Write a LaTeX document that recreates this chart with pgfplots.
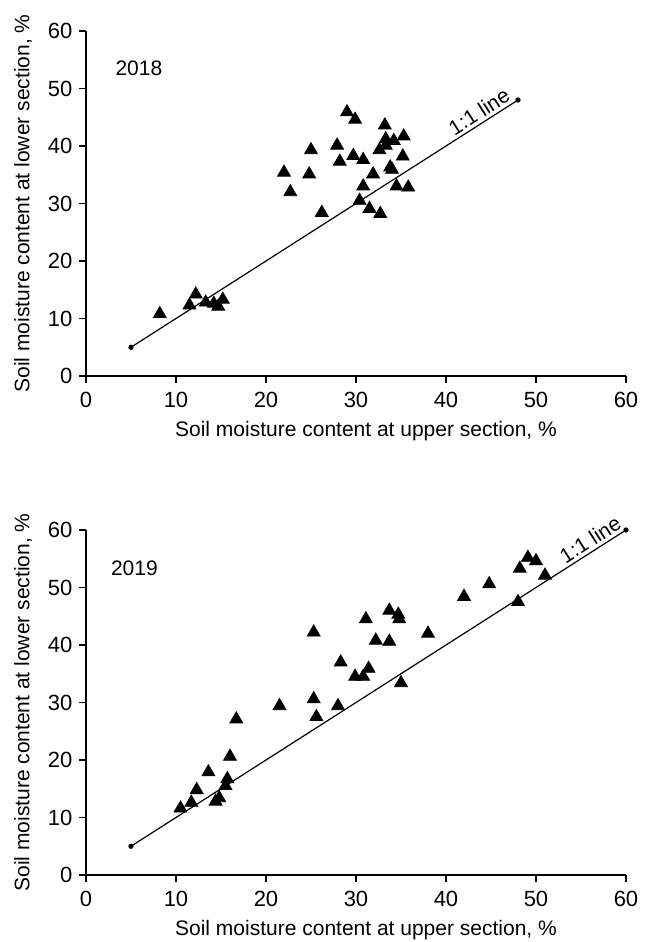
\documentclass[border=0pt]{standalone}
\usepackage{fontspec}
\setmainfont{Liberation Sans}
\usepackage{pgfplots}
\usepackage{pgfplotstable}
\pgfplotsset{compat=1.18}

% upper vs lower section soil moisture, 2018
\pgfplotstableread{
x y
8.2 10.8
11.5 12.3
12.2 14.2
13.3 12.8
14.2 12.6
14.7 12.1
15.2 13.3
22.0 35.4
22.7 32.0
24.8 35.1
25.0 39.3
26.2 28.4
27.9 40.1
28.2 37.3
29.0 45.9
29.9 44.6
29.7 38.3
30.8 37.6
30.4 30.5
30.8 33.0
31.5 29.1
31.9 35.1
32.7 28.2
32.6 39.3
33.2 43.6
33.3 41.2
33.3 40.1
34.2 40.9
33.8 36.3
34.0 35.9
34.5 33.0
35.3 41.7
35.2 38.2
35.8 32.8
}\dataA

% 2019
\pgfplotstableread{
x y
10.5 11.6
11.7 12.6
12.3 14.8
13.6 17.9
14.4 12.8
14.8 13.4
15.5 15.5
15.7 16.7
16.0 20.6
16.7 27.1
21.5 29.4
25.3 42.2
25.3 30.6
25.6 27.5
28.0 29.4
28.3 37.0
29.9 34.5
30.8 34.5
31.4 35.9
31.1 44.5
32.2 40.8
33.7 46.0
33.7 40.6
34.7 45.3
34.8 44.5
35.0 33.4
38.0 42.0
42.0 48.4
44.8 50.6
48.0 47.5
48.2 53.3
49.1 55.2
50.0 54.6
51.0 52.1
}\dataB

\pgfplotsset{
  soilaxis/.style={
    width=270pt, height=172.5pt,
    scale only axis,
    xmin=0, xmax=60, ymin=0, ymax=60,
    xtick={0,10,...,60}, ytick={0,10,...,60},
    axis x line*=bottom, axis y line*=left,
    axis line style={line width=0.7pt, -},
    tick align=outside, tick style={line width=0.7pt, black},
    major tick length=3.3pt,
    /pgf/number format/assume math mode=true,
    tick label style={font=\fontsize{11}{13}\selectfont},
    xticklabel style={yshift=-1pt},
    label style={font=\fontsize{10.5}{12}\selectfont},
    xlabel={Soil moisture content at upper section, \%},
    ylabel={Soil moisture content at lower section, \%},
    xlabel style={yshift=0pt, xshift=5pt},
    ylabel style={yshift=1pt},
    clip=false,
  },
  tri/.style={only marks, mark=triangle*, mark size=3.7pt, black},
  oneone/.style={black, line width=0.6pt, mark=*, mark size=1pt},
}

\begin{document}
\begin{tikzpicture}
\useasboundingbox (-43pt,-33.5pt) rectangle (280pt,437.5pt);

\begin{axis}[soilaxis, at={(0pt,249.5pt)}, anchor=south west]
\addplot[oneone] coordinates {(5,5) (48,48)}
  node[pos=0.915, sloped, above, inner sep=1.5pt, font=\fontsize{10.5}{12}\selectfont] {1:1 line};
\addplot[tri] table {\dataA};
\node[anchor=west, font=\fontsize{10.5}{12}\selectfont] at (axis cs:2.5,53.5) {2018};
\end{axis}

\begin{axis}[soilaxis, at={(0pt,0pt)}, anchor=south west]
\addplot[oneone] coordinates {(5,5) (60,60)}
  node[pos=0.94, sloped, above, inner sep=1.5pt, font=\fontsize{10.5}{12}\selectfont] {1:1 line};
\addplot[tri] table {\dataB};
\node[anchor=west, font=\fontsize{10.5}{12}\selectfont] at (axis cs:2.0,53.4) {2019};
\end{axis}
\end{tikzpicture}
\end{document}
